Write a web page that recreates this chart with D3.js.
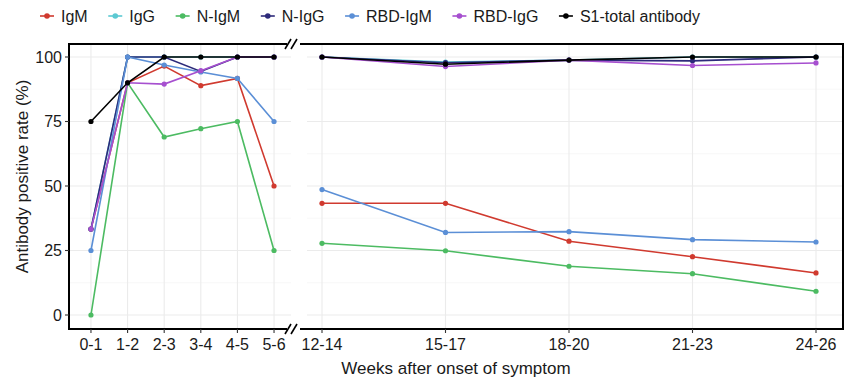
<!DOCTYPE html>
<html>
<head>
<meta charset="utf-8">
<script src="https://cdn.jsdelivr.net/npm/d3@7"></script>
<style>
  body { margin: 0; background: #fff; }
  text { font-family: "Liberation Sans", Arial, sans-serif; fill: #1a1a1a; }
</style>
</head>
<body>
<div id="chart-area"></div>
<script>
// categories
const weeksEarly = ["0-1", "1-2", "2-3", "3-4", "4-5", "5-6"];
const weeksLate = ["12-14", "15-17", "18-20", "21-23", "24-26"];
const seriesNames = ["IgM", "IgG", "N-IgM", "N-IgG", "RBD-IgM", "RBD-IgG", "S1-total antibody"];
const seriesColors = ["#d03a2f", "#5cc9d2", "#4cbb62", "#2d2a7a", "#5b8fd6", "#a64fcf", "#000000"];
const yTicks = [0, 25, 50, 75, 100];

// values: early weeks then late weeks
const igmEarly = [33.3, 90, 96.5, 88.9, 91.7, 50];
const igmLate = [43.3, 43.3, 28.6, 22.6, 16.3];
const iggEarly = [33.3, 100, 100, 100, 100, 100];
const iggLate = [100, 98, 98.8, 100, 100];
const nIgmEarly = [0, 90, 69, 72.2, 75, 25];
const nIgmLate = [27.8, 24.9, 18.9, 16, 9.2];
const nIggEarly = [33.3, 100, 100, 94.4, 100, 100];
const nIggLate = [100, 97.8, 98.8, 98.5, 100];
const rbdIgmEarly = [25, 100, 96.9, 94.2, 91.7, 75];
const rbdIgmLate = [48.6, 32, 32.3, 29.2, 28.3];
const rbdIggEarly = [33.3, 90, 89.5, 94.7, 100, 100];
const rbdIggLate = [100, 96.3, 98.8, 96.7, 97.7];
const s1Early = [75, 90, 100, 100, 100, 100];
const s1Late = [100, 97.2, 98.8, 100, 100];

const earlyValues = [igmEarly, iggEarly, nIgmEarly, nIggEarly, rbdIgmEarly, rbdIggEarly, s1Early];
const lateValues = [igmLate, iggLate, nIgmLate, nIggLate, rbdIgmLate, rbdIggLate, s1Late];

const canvas_dims = { width: 853, height: 381 };
const panel = { left: 69, right: 843, top: 44, bottom: 329, breakLeft: 291, breakRight: 307 };

const svg = d3
  .select("#chart-area")
  .append("svg")
  .attr("width", canvas_dims.width)
  .attr("height", canvas_dims.height);

const scales = {
  xEarly: d3.scalePoint().domain(weeksEarly).range([panel.left, 296]).padding(0.6),
  xLate: d3.scalePoint().domain(weeksLate).range([322, 816]),
  y: d3.scaleLinear().domain([0, 100]).range([315, 57])
};

// grid
const grid = svg.append("g").attr("class", "grid");
const minorY = d3.range(12.5, 100, 25);
[[panel.left, panel.breakLeft], [panel.breakRight, panel.right - 1]].forEach(([x0, x1]) => {
  grid.selectAll(null).data(minorY).enter().append("line")
    .attr("x1", x0).attr("x2", x1)
    .attr("y1", d => scales.y(d)).attr("y2", d => scales.y(d))
    .attr("stroke", "#f3f3f3").attr("stroke-width", 0.6);
  grid.selectAll(null).data(yTicks).enter().append("line")
    .attr("x1", x0).attr("x2", x1)
    .attr("y1", d => scales.y(d)).attr("y2", d => scales.y(d))
    .attr("stroke", "#ebebeb").attr("stroke-width", 1.1);
});
grid.selectAll(null).data(weeksEarly).enter().append("line")
  .attr("x1", d => scales.xEarly(d)).attr("x2", d => scales.xEarly(d))
  .attr("y1", panel.top).attr("y2", panel.bottom)
  .attr("stroke", "#ebebeb").attr("stroke-width", 1.1);
grid.selectAll(null).data(weeksLate).enter().append("line")
  .attr("x1", d => scales.xLate(d)).attr("x2", d => scales.xLate(d))
  .attr("y1", panel.top).attr("y2", panel.bottom)
  .attr("stroke", "#ebebeb").attr("stroke-width", 1.1);

// lines + points
const line = x => d3.line().x((d, i) => x(i)).y(d => scales.y(d));
const marks = svg.append("g").attr("class", "marks");
seriesNames.forEach((name, s) => {
  const parts = [
    { vals: earlyValues[s], x: i => scales.xEarly(weeksEarly[i]) },
    { vals: lateValues[s], x: i => scales.xLate(weeksLate[i]) }
  ];
  parts.forEach(p => {
    marks.append("path")
      .attr("d", line(p.x)(p.vals))
      .attr("fill", "none")
      .attr("stroke", seriesColors[s])
      .attr("stroke-width", 1.6);
    marks.selectAll(null).data(p.vals).enter().append("circle")
      .attr("cx", (d, i) => p.x(i))
      .attr("cy", d => scales.y(d))
      .attr("r", 2.6)
      .attr("fill", seriesColors[s]);
  });
});

// frame with axis break
const frame = svg.append("g").attr("stroke", "#000").attr("stroke-width", 2).attr("fill", "none");
frame.append("path").attr("d",
  `M${panel.breakLeft - 4},${panel.top} H${panel.left} V${panel.bottom} H${panel.breakLeft - 4}`);
frame.append("path").attr("d",
  `M${panel.breakRight - 7},${panel.top} H${panel.right} V${panel.bottom} H${panel.breakRight - 7}`);
[panel.top, panel.bottom].forEach(yy => {
  [panel.breakLeft - 3, panel.breakLeft + 3].forEach(xx => {
    frame.append("line")
      .attr("x1", xx - 3).attr("y1", yy + 5)
      .attr("x2", xx + 3).attr("y2", yy - 5)
      .attr("stroke-width", 1.6);
  });
});

// axes
const yAxis = svg.append("g").attr("class", "y axis");
yAxis.selectAll(null).data(yTicks).enter().append("line")
  .attr("x1", panel.left - 4).attr("x2", panel.left)
  .attr("y1", d => scales.y(d)).attr("y2", d => scales.y(d))
  .attr("stroke", "#333").attr("stroke-width", 1.1);
yAxis.selectAll(null).data(yTicks).enter().append("text")
  .attr("x", panel.left - 7)
  .attr("y", d => scales.y(d))
  .attr("dy", "0.36em")
  .attr("text-anchor", "end")
  .attr("font-size", "16px")
  .text(d => d);

const xTicks = weeksEarly.map(d => ({ label: d, x: scales.xEarly(d) }))
  .concat(weeksLate.map(d => ({ label: d, x: scales.xLate(d) })));
const xAxis = svg.append("g").attr("class", "x axis");
xAxis.selectAll(null).data(xTicks).enter().append("line")
  .attr("x1", d => d.x).attr("x2", d => d.x)
  .attr("y1", panel.bottom).attr("y2", panel.bottom + 4)
  .attr("stroke", "#333").attr("stroke-width", 1.1);
xAxis.selectAll(null).data(xTicks).enter().append("text")
  .attr("x", d => d.x)
  .attr("y", panel.bottom + 21)
  .attr("text-anchor", "middle")
  .attr("font-size", "16px")
  .text(d => d.label);

// axis titles
svg.append("text")
  .attr("x", (panel.left + panel.right) / 2)
  .attr("y", 374)
  .attr("text-anchor", "middle")
  .attr("font-size", "17px")
  .text("Weeks after onset of symptom");
svg.append("text")
  .attr("transform", `translate(28,${(panel.top + panel.bottom) / 2 - 10}) rotate(-90)`)
  .attr("text-anchor", "middle")
  .attr("font-size", "17px")
  .text("Antibody positive rate (%)");

// legend, spread between x=40 and x=700
const legend = svg.append("g").attr("class", "legend").attr("transform", "translate(0,16)");
const legendStart = 40, legendEnd = 700, keyPad = 21;
const items = seriesNames.map((name, s) => {
  const g = legend.append("g");
  g.append("line").attr("x1", 0).attr("x2", 14).attr("y1", 0).attr("y2", 0)
    .attr("stroke", seriesColors[s]).attr("stroke-width", 1.6);
  g.append("circle").attr("cx", 7).attr("cy", 0).attr("r", 2.8).attr("fill", seriesColors[s]);
  const t = g.append("text").attr("x", keyPad).attr("dy", "0.36em").attr("font-size", "16px").text(name);
  return { g, w: keyPad + t.node().getComputedTextLength() };
});
const gap = (legendEnd - legendStart - d3.sum(items, d => d.w)) / (items.length - 1);
let cursor = legendStart;
items.forEach(it => {
  it.g.attr("transform", `translate(${cursor},0)`);
  cursor += it.w + gap;
});
</script>
</body>
</html>
